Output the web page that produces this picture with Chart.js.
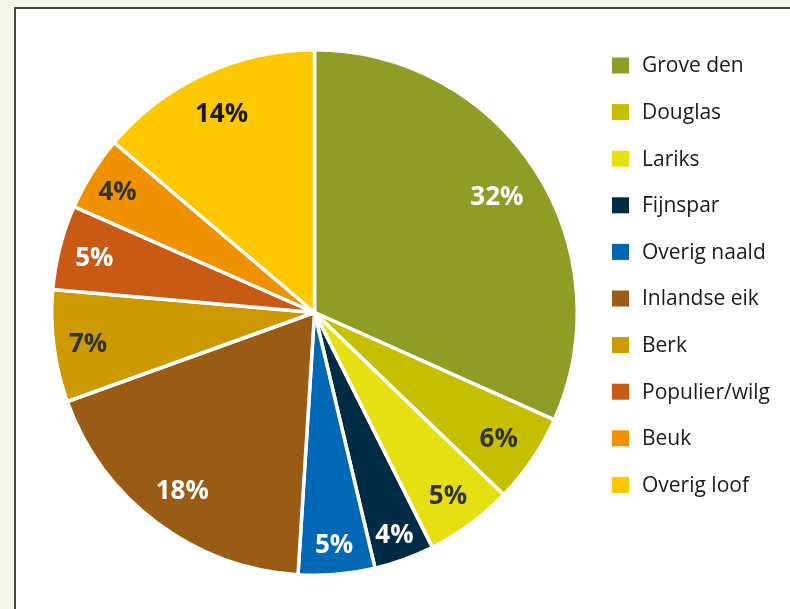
<!DOCTYPE html>
<html>
<head>
<meta charset="utf-8">
<script src="https://cdn.jsdelivr.net/npm/chart.js@4/dist/chart.umd.min.js"></script>
<style>
  html, body { margin: 0; padding: 0; }
  body { width: 790px; height: 609px; background: #f6f6ea; position: relative; overflow: hidden; }
  #panel { position: absolute; left: 14px; top: 7px; width: 820px; height: 700px; background: #ffffff;
           border-left: 2px solid #454545; border-top: 2px solid #454545; }
  #wrap { position: absolute; left: 0; top: 0; width: 790px; height: 609px; }
</style>
</head>
<body>
<div id="panel"></div>
<div id="wrap"><canvas id="c" width="790" height="609"></canvas></div>
<script>
// ---- data ----
const categories = ["Grove den", "Douglas", "Lariks", "Fijnspar", "Overig naald",
                    "Inlandse eik", "Berk", "Populier/wilg", "Beuk", "Overig loof"];
// slice sizes (percent of total)
const shares = [31.7, 5.5, 5.4, 3.7, 4.7, 18.5, 6.9, 5.2, 4.6, 13.8];
const valueLabels = ["32%", "6%", "5%", "4%", "5%", "18%", "7%", "5%", "4%", "14%"];

// ---- styles ----
const sliceColors = ["#8f9c26", "#c4c000", "#e6e013", "#002b45", "#0068b4",
                     "#9a5b14", "#cc9a00", "#c85a14", "#f09200", "#fec800"];
const labelColors = ["#ffffff", "#333333", "#333333", "#ffffff", "#ffffff",
                     "#ffffff", "#333333", "#ffffff", "#333333", "#1a1a1a"];
// label distance from centre, as a fraction of the radius
const labelRadius = [0.827, 0.846, 0.857, 0.89, 0.88, 0.838, 0.869, 0.865, 0.884, 0.842];

const sliceLabels = {
  id: 'sliceLabels',
  afterDatasetsDraw(chart) {
    const ctx = chart.ctx;
    const meta = chart.getDatasetMeta(0);
    ctx.save();
    ctx.font = 'bold 26px "Open Sans", sans-serif';
    ctx.textAlign = 'center';
    ctx.textBaseline = 'middle';
    meta.data.forEach((arc, i) => {
      const p = arc.getProps(['x', 'y', 'startAngle', 'endAngle', 'outerRadius'], true);
      const mid = (p.startAngle + p.endAngle) / 2;
      const r = p.outerRadius * labelRadius[i];
      ctx.fillStyle = labelColors[i];
      ctx.fillText(valueLabels[i], p.x + Math.cos(mid) * r, p.y + Math.sin(mid) * r + 3);
    });
    ctx.restore();
  }
};

const sideLegend = {
  id: 'sideLegend',
  afterDraw(chart) {
    const ctx = chart.ctx;
    ctx.save();
    ctx.font = '21px "Open Sans", sans-serif';
    ctx.textBaseline = 'middle';
    ctx.textAlign = 'left';
    const x0 = 612, y0 = 65.5, step = 46.6;
    categories.forEach((name, i) => {
      const y = y0 + i * step;
      ctx.fillStyle = sliceColors[i];
      ctx.fillRect(x0, y - 8, 17, 16);
      ctx.fillStyle = '#1a1a1a';
      ctx.fillText(name, 642, y + 1);
    });
    ctx.restore();
  }
};

new Chart(document.getElementById('c'), {
  type: 'pie',
  data: {
    labels: categories,
    datasets: [{
      data: shares,
      backgroundColor: sliceColors,
      borderColor: '#ffffff',
      borderWidth: 3.5,
      hoverOffset: 0
    }]
  },
  options: {
    responsive: false,
    animation: false,
    rotation: 0,
    layout: { padding: { left: 50, top: 48, right: 211, bottom: 32 } },
    plugins: { legend: { display: false }, tooltip: { enabled: false } }
  },
  plugins: [sliceLabels, sideLegend]
});
</script>
</body>
</html>
